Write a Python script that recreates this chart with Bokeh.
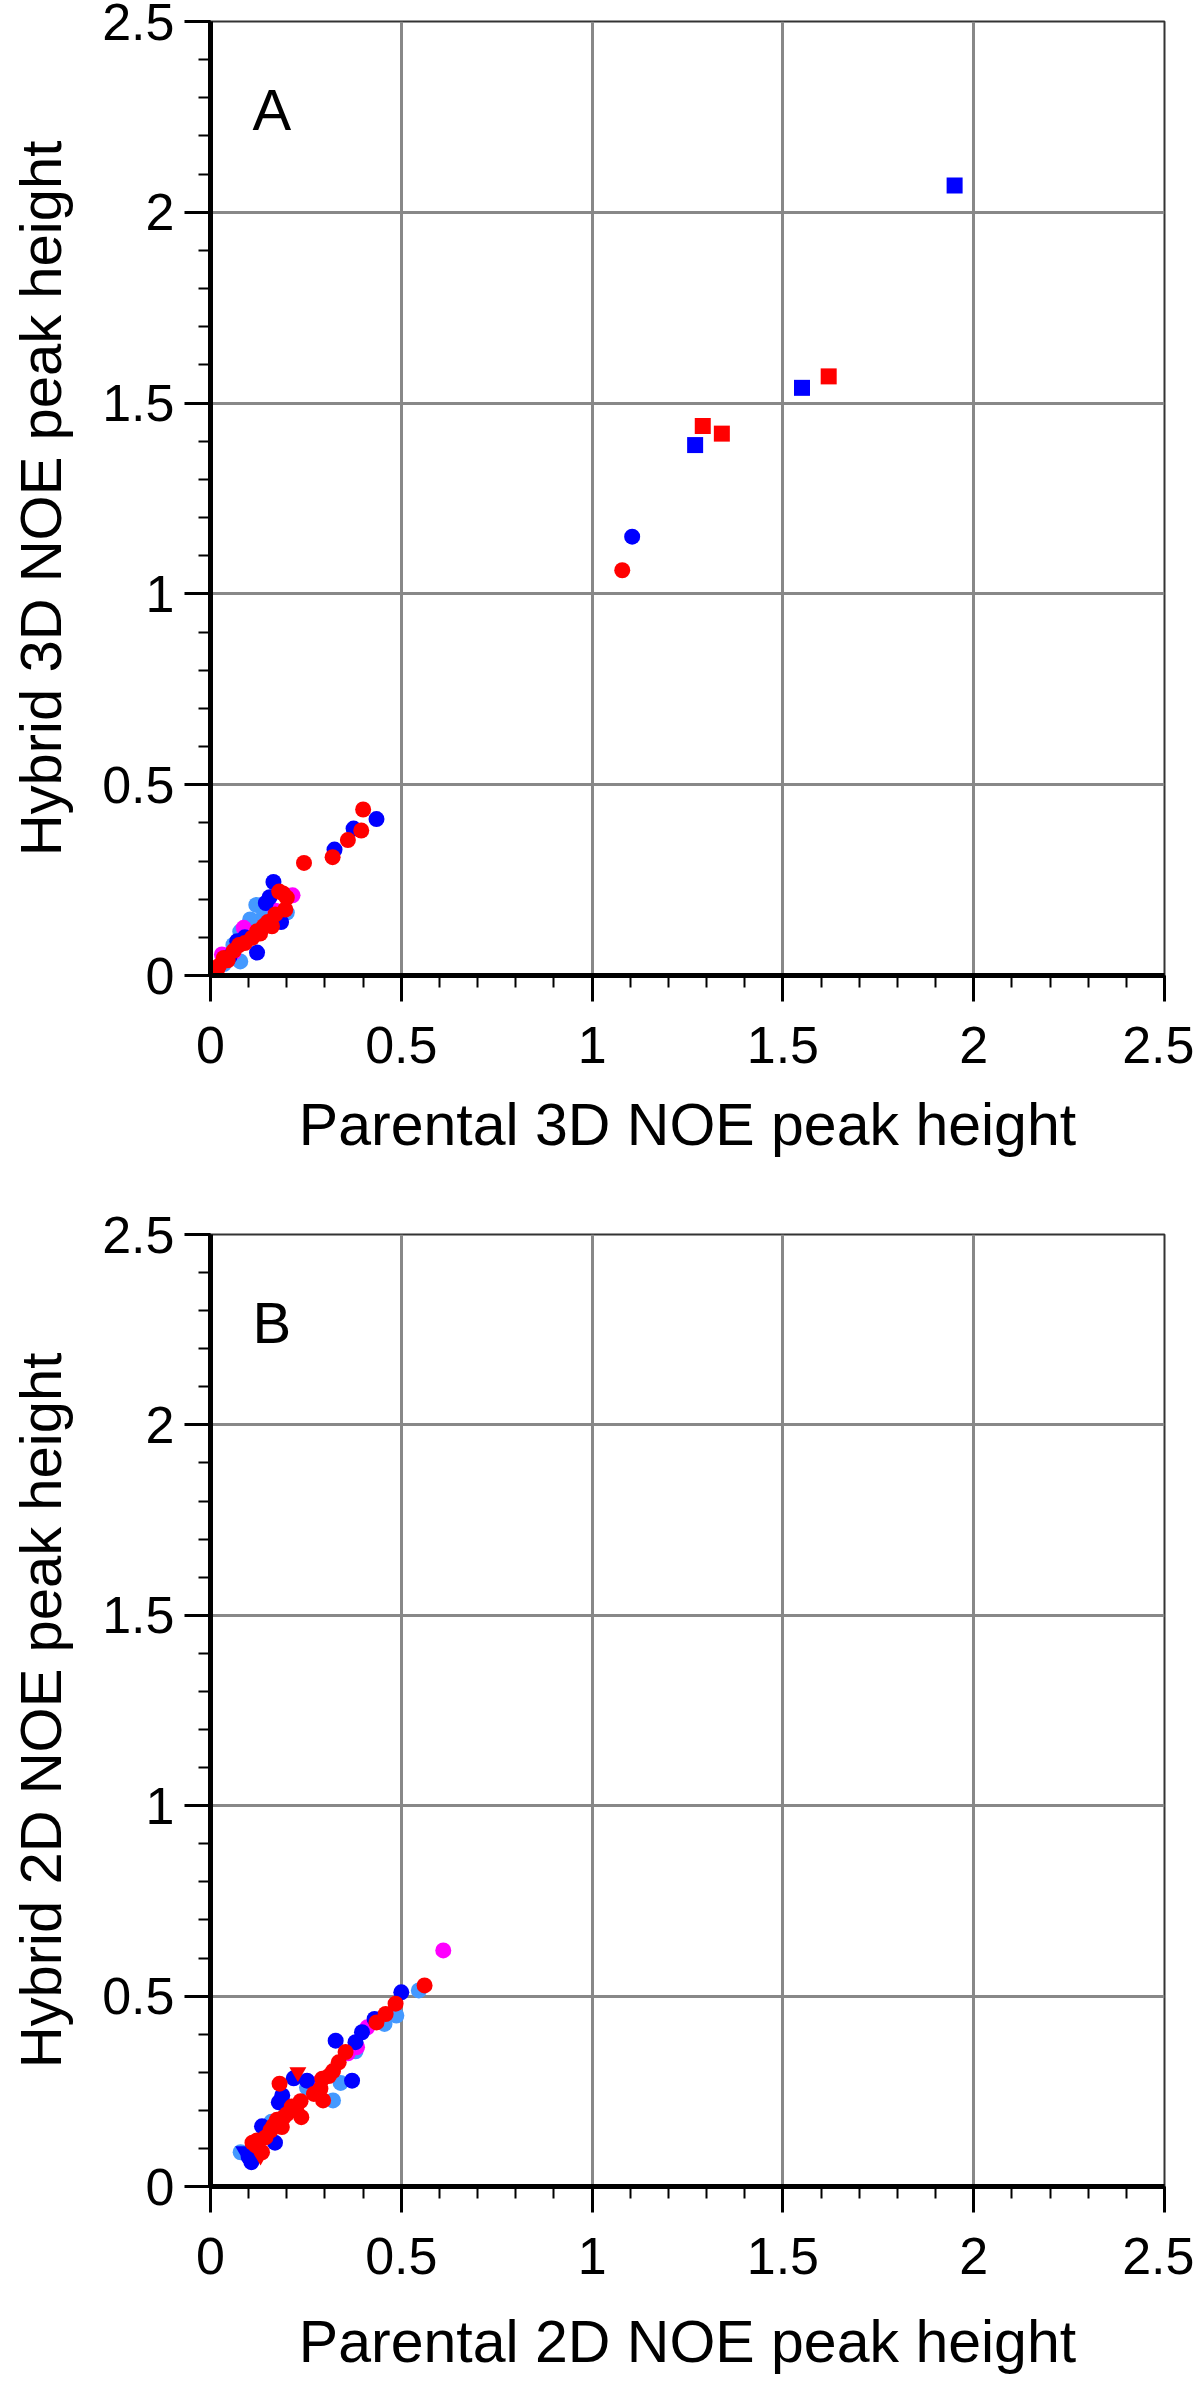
from bokeh.plotting import figure
from bokeh.models import SingleIntervalTicker, Label, Range1d
from bokeh.layouts import column
from bokeh.embed import file_html
from bokeh.resources import INLINE

# ---------------- data ----------------
tick_values = [0, 0.5, 1, 1.5, 2, 2.5]
tick_labels = ["0", "0.5", "1", "1.5", "2", "2.5"]

# Panel A (3D NOE)
a_lightblue_x = [0.12, 0.104, 0.078, 0.078, 0.20, 0.06, 0.035, 0.14]
a_lightblue_y = [0.185, 0.147, 0.115, 0.037, 0.165, 0.08, 0.03, 0.16]
a_magenta_x = [0.215, 0.087, 0.03, 0.06, 0.17]
a_magenta_y = [0.21, 0.125, 0.055, 0.06, 0.17]
a_blue_x = [1.105, 0.435, 0.375, 0.325, 0.165, 0.145, 0.178, 0.122, 0.07, 0.09, 0.05, 0.185, 0.155]
a_blue_y = [1.150, 0.41, 0.385, 0.33, 0.245, 0.19, 0.147, 0.06, 0.09, 0.10, 0.05, 0.14, 0.205]
a_blue_tri_x = [0.073, 0.085]
a_blue_tri_y = [0.075, 0.095]
a_red_x = [1.079, 0.40, 0.395, 0.36, 0.32, 0.245, 0.18, 0.20, 0.161, 0.17, 0.196, 0.122, 0.109,
           0.061, 0.035, 0.022, 0.017, 0.09, 0.14, 0.13, 0.075, 0.045, 0.15, 0.01, 0.19]
a_red_y = [1.062, 0.435, 0.38, 0.355, 0.31, 0.295, 0.22, 0.204, 0.129, 0.16, 0.173, 0.116, 0.099,
           0.065, 0.046, 0.025, 0.015, 0.085, 0.13, 0.11, 0.08, 0.04, 0.14, 0.01, 0.215]
a_blue_sq_x = [1.27, 1.55, 1.95]
a_blue_sq_y = [1.39, 1.54, 2.07]
a_red_sq_x = [1.29, 1.34, 1.62]
a_red_sq_y = [1.44, 1.42, 1.57]

# Panel B (2D NOE)
b_lightblue_x = [0.546, 0.487, 0.456, 0.38, 0.341, 0.321, 0.253, 0.079, 0.20, 0.16]
b_lightblue_y = [0.515, 0.449, 0.427, 0.355, 0.272, 0.226, 0.26, 0.09, 0.20, 0.17]
b_magenta_x = [0.61, 0.411, 0.384, 0.28, 0.12, 0.36]
b_magenta_y = [0.62, 0.418, 0.366, 0.27, 0.10, 0.35]
b_blue_x = [0.50, 0.397, 0.328, 0.38, 0.371, 0.253, 0.218, 0.188, 0.179, 0.135, 0.169, 0.107,
            0.10, 0.15, 0.43]
b_blue_y = [0.51, 0.405, 0.383, 0.379, 0.278, 0.278, 0.284, 0.239, 0.221, 0.158, 0.115, 0.064,
            0.078, 0.14, 0.44]
b_blue_tri_x = [0.087]
b_blue_tri_y = [0.093]
b_red_x = [0.561, 0.485, 0.459, 0.435, 0.354, 0.336, 0.321, 0.293, 0.288, 0.271, 0.295, 0.181,
           0.236, 0.238, 0.213, 0.192, 0.187, 0.174, 0.157, 0.144, 0.122, 0.118, 0.135, 0.11,
           0.20, 0.165, 0.225, 0.31]
b_red_y = [0.528, 0.48, 0.453, 0.431, 0.353, 0.326, 0.303, 0.283, 0.257, 0.243, 0.226, 0.27,
           0.224, 0.182, 0.21, 0.182, 0.156, 0.175, 0.147, 0.129, 0.121, 0.108, 0.09, 0.115,
           0.19, 0.16, 0.2, 0.29]
b_red_tri_x = [0.229, 0.131]
b_red_tri_y = [0.300, 0.081]

BLUE = "#0000FF"
RED = "#FF0000"
LIGHTBLUE = "#4499FF"
MAGENTA = "#FF00FF"
FONT = "Liberation Sans"


def make_panel(letter, xlabel, ylabel, series, top, bottom, frame_h, xlab_standoff):
    p = figure(frame_width=954, frame_height=frame_h,
               x_range=Range1d(0, 2.5), y_range=Range1d(0, 2.5),
               output_backend="svg", toolbar_location=None,
               min_border_left=210, min_border_right=30,
               min_border_top=top, min_border_bottom=bottom,
               background_fill_color="white", border_fill_color="white")
    p.outline_line_color = "#333333"
    p.outline_line_width = 2
    p.xgrid.grid_line_color = "#888888"
    p.ygrid.grid_line_color = "#888888"
    p.xgrid.grid_line_width = 3
    p.ygrid.grid_line_width = 3
    overrides = {v: l for v, l in zip(tick_values, tick_labels)}
    for ax, lab in ((p.xaxis[0], xlabel), (p.yaxis[0], ylabel)):
        ax.ticker = SingleIntervalTicker(interval=0.5, num_minor_ticks=5)
        ax.major_label_overrides = overrides
        ax.axis_line_width = 5
        ax.axis_line_color = "black"
        ax.major_tick_line_width = 3
        ax.major_tick_line_color = "black"
        ax.major_tick_in = 0
        ax.major_tick_out = 26
        ax.minor_tick_line_width = 2
        ax.minor_tick_line_color = "black"
        ax.minor_tick_in = 0
        ax.minor_tick_out = 12
        ax.major_label_text_font = FONT
        ax.major_label_text_font_size = "52px"
        ax.major_label_text_color = "black"
        ax.axis_label = lab
        ax.axis_label_text_font = FONT
        ax.axis_label_text_font_style = "normal"
        ax.axis_label_text_color = "black"
    p.xaxis.axis_label_text_font_size = "59px"
    p.yaxis.axis_label_text_font_size = "58px"
    p.xaxis.major_label_standoff = 25
    p.yaxis.major_label_standoff = 10
    p.xaxis.axis_label_standoff = xlab_standoff
    p.yaxis.axis_label_standoff = 26

    for xs, ys, color, marker, size in series:
        p.scatter(xs, ys, marker=marker, size=size, fill_color=color, line_color=None)

    p.add_layout(Label(x=0.11, y=2.27, text=letter, text_font=FONT,
                       text_font_size="58px", text_color="black",
                       text_baseline="alphabetic", text_align="left"))
    return p


series_a = [
    (a_lightblue_x, a_lightblue_y, LIGHTBLUE, "circle", 16),
    (a_magenta_x, a_magenta_y, MAGENTA, "circle", 16),
    (a_blue_x, a_blue_y, BLUE, "circle", 16),
    (a_blue_tri_x, a_blue_tri_y, BLUE, "inverted_triangle", 17),
    (a_red_x, a_red_y, RED, "circle", 16),
    (a_blue_sq_x, a_blue_sq_y, BLUE, "square", 16),
    (a_red_sq_x, a_red_sq_y, RED, "square", 16),
]
series_b = [
    (b_lightblue_x, b_lightblue_y, LIGHTBLUE, "circle", 16),
    (b_magenta_x, b_magenta_y, MAGENTA, "circle", 16),
    (b_blue_x, b_blue_y, BLUE, "circle", 16),
    (b_blue_tri_x, b_blue_tri_y, BLUE, "inverted_triangle", 17),
    (b_red_x, b_red_y, RED, "circle", 16),
    (b_red_tri_x, b_red_tri_y, RED, "inverted_triangle", 17),
]

pA = make_panel("A", "Parental 3D NOE peak height", "Hybrid 3D NOE peak height",
                series_a, 21, 225, 954, 26)
pB = make_panel("B", "Parental 2D NOE peak height", "Hybrid 2D NOE peak height",
                series_b, 34, 192, 952, 32)

layout = column(pA, pB)
open("out.html", "w").write(file_html(layout, INLINE))
